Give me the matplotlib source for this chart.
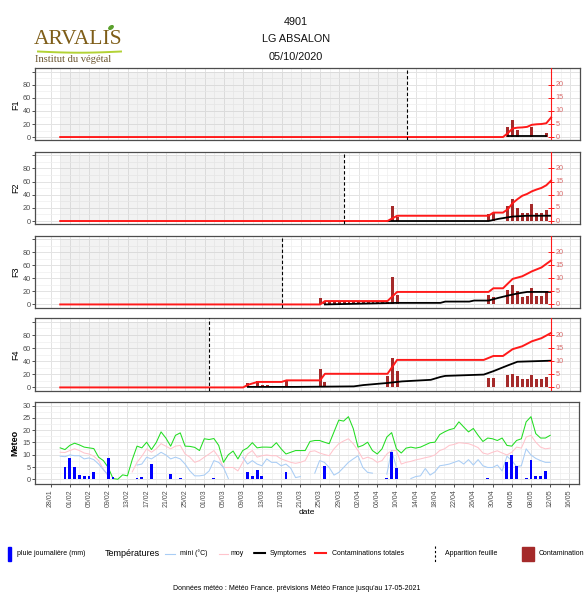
import numpy as np
import pandas as pd
import matplotlib
matplotlib.use("Agg")
import matplotlib.pyplot as plt
import matplotlib.dates as mdates
from matplotlib.patches import Rectangle, Ellipse

plt.rcParams['font.family'] = ['Liberation Sans', 'DejaVu Sans']

# -------------------------------
# data (values of the F panels are read on the red right axis)
# -------------------------------
year = "2021-"
start_date = "01-30"
axis_date = "05-12"
leaf = {"F1": "04-12", "F2": "03-30", "F3": "03-17", "F4": "03-02"}

f1_red_d = ["01-30", "05-02", "05-03", "05-04", "05-05", "05-06", "05-07", "05-08", "05-09", "05-10", "05-11", "05-12"]
f1_red_v = [0, 0, 1.5, 3.3, 3.6, 3.7, 3.9, 4.7, 4.9, 5.0, 5.3, 7.5]
f1_sym_d = ["05-03", "05-11"]
f1_sym_v = [0.3, 0.3]
f1_bar_d = ["05-03", "05-04", "05-05", "05-08", "05-11"]
f1_bar_v = [3.8, 6.4, 2.7, 4.0, 1.4]

f2_red_d = ["01-30", "04-08", "04-10", "04-29", "04-30", "05-02", "05-03", "05-04", "05-05", "05-06",
            "05-07", "05-08", "05-09", "05-10", "05-11", "05-12"]
f2_red_v = [0, 0, 2.0, 2.0, 3.2, 3.2, 4.5, 6.8, 8.3, 9.6, 10.3, 11.3, 12.0, 12.6, 13.6, 15.4]
f2_sym_d = ["04-08", "04-29", "05-01", "05-04", "05-07", "05-12"]
f2_sym_v = [0, 0, 0.8, 1.7, 2.0, 2.0]
f2_bar_d = ["04-09", "04-10", "04-29", "04-30", "05-03", "05-04", "05-05", "05-06", "05-07", "05-08",
            "05-09", "05-10", "05-11"]
f2_bar_v = [5.8, 1.5, 2.6, 2.9, 5.8, 8.3, 5.1, 2.9, 2.9, 6.5, 3.2, 2.9, 4.2]

f3_red_d = ["01-30", "03-25", "03-26", "04-08", "04-10", "04-29", "04-30", "05-02", "05-04", "05-06",
            "05-08", "05-10", "05-12"]
f3_red_v = [0, 0, 1.3, 1.3, 4.8, 4.8, 6.2, 6.2, 9.8, 10.8, 12.7, 14.2, 16.9]
f3_sym_d = ["03-26", "04-10", "04-19", "04-20", "04-25", "04-26", "04-29", "05-01", "05-03", "05-05",
            "05-07", "05-12"]
f3_sym_v = [0, 0.6, 0.6, 1.1, 1.1, 1.5, 1.5, 2.5, 3.4, 4.2, 4.8, 4.8]
f3_bar_d = ["03-25", "03-26", "03-27", "03-28", "03-29", "03-30", "03-31", "04-01", "04-02", "04-03",
            "04-04", "04-05", "04-06", "04-07", "04-08", "04-09", "04-10", "04-29", "04-30",
            "05-03", "05-04", "05-05", "05-06", "05-07", "05-08", "05-09", "05-10", "05-11"]
f3_bar_v = [2.5, 1.0, 1.0, 1.0, 1.0, 1.0, 1.0, 1.0, 1.0, 1.0, 1.0, 1.0, 1.0, 1.0, 1.0, 10.4, 3.5, 3.8, 2.8,
            5.7, 7.3, 5.3, 2.8, 3.4, 6.4, 3.4, 3.4, 4.7]

f4_red_d = ["01-30", "03-09", "03-10", "03-12", "03-17", "03-18", "03-25", "03-26", "04-08", "04-10",
            "04-28", "04-30", "05-02", "05-04", "05-06", "05-08", "05-10", "05-12"]
f4_red_v = [0, 0, 1.0, 2.1, 2.1, 2.7, 2.7, 5.2, 5.2, 10.5, 10.5, 12.0, 12.0, 14.6, 15.7, 17.6, 18.8, 20.8]
f4_sym_d = ["03-10", "03-20", "04-01", "04-03", "04-08", "04-11", "04-17", "04-19", "04-20", "04-28",
            "04-30", "05-03", "05-05", "05-12"]
f4_sym_v = [0.2, 0.2, 0.4, 0.9, 1.7, 2.3, 2.9, 4.0, 4.4, 4.9, 6.2, 8.4, 9.8, 10.2]
f4_bar_d = ["03-10", "03-12", "03-13", "03-14", "03-18", "03-25", "03-26", "04-08", "04-09", "04-10",
            "04-29", "04-30", "05-03", "05-04", "05-05", "05-06", "05-07", "05-08", "05-09", "05-10", "05-11"]
f4_bar_v = [1.7, 2.3, 0.8, 0.8, 3.0, 6.9, 1.9, 4.5, 11.4, 6.2, 3.6, 3.6, 4.8, 5.3, 4.4, 3.1, 3.1, 4.8,
            3.4, 3.4, 3.9]

nan = np.nan
# daily temperatures from 30/01 to 12/05 (values below 0 are out of the scale)
tmax = [12.8, 12.1, 13.8, 14.7, 14.0, 13.1, 12.8, 12.5, 9.0, 7.6, 4.8, 0.3, 0.0, 1.8, 1.4, 8.0, 13.5, 12.8,
        15.1, 12.1, 15.0, 19.3, 16.8, 13.5, 17.9, 18.9, 13.5, 13.4, 13.0, 11.7, 16.5, 16.2, 16.6, 13.8, 6.9,
        10.0, 11.5, 8.3, 11.7, 12.8, 14.9, 12.8, 13.1, 13.1, 13.0, 14.9, 12.4, 10.3, 11.0,
        11.7, 11.7, 11.7, 15.4, 15.8, 15.8, 15.1, 14.5, 19.3, 24.1, 23.7, 25.5, 20.7, 13.1, 13.8, 15.1,
        11.7, 10.3, 12.4, 17.2, 19.0, 12.4, 10.7, 12.7, 13.1, 12.7, 13.1, 14.0, 14.9, 15.1, 18.2, 19.3,
        20.2, 20.7, 23.4, 21.3, 19.3, 20.7, 17.9, 15.4, 16.8, 16.5, 15.8, 16.8, 13.8, 13.5, 15.8, 16.5,
        23.4, 25.5, 18.6, 16.8, 16.8, 17.9]
tmoy = [11.0, 10.9, 11.7, 12.4, 11.7, 10.7, 10.3, 9.4, 7.6, 4.1, 1.4, nan, nan, nan, nan, 3.0, 6.9, 9.4,
        12.4, 11.0, 12.4, 14.5, 13.5, 12.4, 13.5, 13.8, 10.3, 9.0, 6.9, 7.6, 9.0, 10.3, 11.7, 9.0, 4.8, 4.8,
        4.8, 3.4, 6.9, 10.3, 11.7, 9.0, 9.6, 9.9, 9.6, 9.6, 8.3, 7.6, 6.9,
        6.5, 6.9, 7.6, 11.3, 11.6, 10.7, 10.1, 9.6, 12.4, 14.5, 15.6, 16.5, 14.5, 11.7, 8.3, 9.0, 8.3,
        6.9, 7.6, 10.3, 11.7, 11.7, 6.2, 6.9, 7.3, 7.9, 8.3, 8.8, 9.2, 9.9, 11.7, 12.4, 13.8, 14.2, 14.9,
        14.7, 14.5, 13.8, 12.9, 10.7, 10.2, 11.0, 11.6, 10.7, 9.9, 11.0, 13.1, 12.7, 17.2, 17.9, 15.1,
        13.1, 12.4, 12.7]
tmin = [9.4, 9.2, 9.9, 9.6, 9.6, 8.3, 8.7, 8.0, 6.2, 3.9, 1.7, nan, nan, nan, nan, nan, 5.8, 6.2, 9.0, 8.3,
        9.6, 11.0, 9.9, 8.3, 9.0, 8.3, 6.2, 3.4, 1.4, 1.4, 1.7, 3.4, 7.6, 6.9, 4.8, 0.3, nan, nan, 9.0, 6.2,
        7.6, 6.2, 5.5, 8.3, 6.9, 6.9, 5.5, 6.2, 4.5,
        0.7, 1.1, nan, nan, 2.5, 7.6, 6.9, 4.8, 1.7, 2.8, 4.8, 6.9, 8.3, 9.6, 4.8, 2.8, 2.5, nan, nan, 2.1,
        11.7, 4.8, nan, nan, 0.3, 1.1, 1.4, 4.4, 1.7, 3.0, 5.5, 5.8, 6.2, 6.9, 7.6, 6.2, 8.0, 5.8, 8.0, 5.5,
        4.8, 4.8, 5.8, 3.4, 9.4, 7.6, 5.2, 5.5, 12.4, 9.9, 8.5, 7.6, 6.9, 6.9]
rain_d = ["01-31", "02-01", "02-02", "02-03", "02-04", "02-05", "02-06", "02-09", "02-10", "02-15", "02-16",
          "02-18", "02-22", "02-24", "03-03", "03-10", "03-11", "03-12", "03-13", "03-18", "03-26", "04-08",
          "04-09", "04-10", "04-29", "05-03", "05-04", "05-05", "05-07", "05-08", "05-09", "05-10", "05-11"]
rain_v = [5.2, 8.5, 4.8, 1.8, 1.4, 1.4, 3.0, 8.5, 1.0, 0.4, 1.1, 6.2, 2.1, 0.5, 0.5, 3.0, 1.4, 3.9, 1.4,
          3.0, 5.5, 0.4, 11.3, 4.4, 0.4, 6.9, 9.9, 5.5, 0.4, 7.8, 1.4, 1.4, 3.4]

titles = ["4901", "LG ABSALON", "05/10/2020"]
footer = "Données météo : Météo France. prévisions Météo France jusqu'au 17-05-2021"

SCALE = 4  # left axis (0-100) = 4 x red right axis (0-25)
RED = "#ff1a1a"
BROWN = "#a52a2a"


def dts(lst):
    return pd.to_datetime([year + s for s in lst])


day0 = mdates.date2num(pd.Timestamp(year + "01-28"))
xlim = (day0 - 3.24, day0 + 109.1)
major_ticks = pd.date_range(year + "01-28", year + "05-16", freq="4D")
minor_ticks = pd.date_range(year + "01-30", year + "05-18", freq="4D")

fig = plt.figure(figsize=(5.88, 5.96), dpi=100)


def px_axes(l, t, r, b):
    return fig.add_axes([l / 588, 1 - b / 596, (r - l) / 588, (b - t) / 596])


def base_style(ax):
    ax.set_xlim(xlim)
    ax.set_xticks(major_ticks)
    ax.set_xticks(minor_ticks, minor=True)
    ax.grid(which="major", color="#e3e3e3", lw=0.7)
    ax.grid(which="minor", color="#efefef", lw=0.5)
    ax.set_axisbelow(True)
    for s in ax.spines.values():
        s.set_color("#4d4d4d")
        s.set_linewidth(0.9)
    ax.tick_params(axis="y", labelsize=5.3, labelcolor="#4d4d4d", length=2, width=0.6,
                   color="#333333", pad=1)
    ax.tick_params(axis="y", which="minor", length=0)


# -------------------------------
# F panels
# -------------------------------
panels = [
    ("F1", (68.3, 140.3), f1_red_d, f1_red_v, f1_sym_d, f1_sym_v, f1_bar_d, f1_bar_v),
    ("F2", (151.7, 224.3), f2_red_d, f2_red_v, f2_sym_d, f2_sym_v, f2_bar_d, f2_bar_v),
    ("F3", (235.7, 307.7), f3_red_d, f3_red_v, f3_sym_d, f3_sym_v, f3_bar_d, f3_bar_v),
    ("F4", (318.3, 390.7), f4_red_d, f4_red_v, f4_sym_d, f4_sym_v, f4_bar_d, f4_bar_v),
]

for name, (top, bot), rd, rv, sd, sv, bd, bv in panels:
    ax = px_axes(35, top, 580, bot)
    base_style(ax)
    ax.set_ylim(-5, 105.5)
    ax.set_yticks([0, 20, 40, 60, 80, 100])
    ax.set_yticklabels(["0", "20", "40", "60", "80", ""])
    ax.set_yticks([10, 30, 50, 70, 90], minor=True)
    ax.tick_params(axis="x", which="both", length=0, labelbottom=False)
    ax.set_ylabel(name, fontsize=6.5, labelpad=2)

    # period before leaf appearance
    ax.fill_between(dts([start_date, leaf[name]]), 0, 100, color="#bfbfbf", alpha=0.2, lw=0, zorder=1)
    ax.bar(dts(bd), np.array(bv) * SCALE, width=0.6, color=BROWN, zorder=3)
    ax.plot(dts(sd), np.array(sv) * SCALE, color="black", lw=1.3, zorder=4)
    ax.plot(dts(rd), np.array(rv) * SCALE, color=RED, lw=1.4, zorder=5)
    ax.axvline(dts([leaf[name]])[0], color="black", lw=0.8, ls=(0, (3, 2)), zorder=6)

    # red secondary axis drawn at the current date
    xa = dts([axis_date])[0]
    ax.axvline(xa, color=RED, lw=0.8, zorder=6)
    for v in [0, 5, 10, 15, 20]:
        ax.plot([xa], [v * SCALE], marker="_", ms=4, mew=0.7, color=RED, zorder=6)
        ax.text(mdates.date2num(xa) + 0.9, v * SCALE, str(v), fontsize=5.2, color="#d96b6b",
                va="center", ha="left", zorder=6)

# -------------------------------
# Meteo panel
# -------------------------------
ax = px_axes(35, 401.7, 579, 483.7)
base_style(ax)
ax.set_ylim(-1.8, 31.6)
ax.set_yticks([0, 5, 10, 15, 20, 25, 30])
ax.set_yticks(np.arange(2.5, 30, 5), minor=True)
ax.set_ylabel("Meteo", fontsize=6.5, fontweight="bold", labelpad=2)

days = pd.date_range(year + start_date, periods=len(tmax))
ax.plot(days, tmax, color="#22dd22", lw=0.75, zorder=3)
ax.plot(days, tmoy, color="#ffc4cc", lw=0.75, zorder=3)
ax.plot(days, tmin, color="#a9cdf5", lw=0.75, zorder=3)
ax.bar(dts(rain_d), rain_v, width=0.6, color="#0000ff", zorder=4)

ax.set_xticklabels([d.strftime("%d/%m") for d in major_ticks], rotation=90, fontsize=5,
                   color="#4d4d4d")
ax.tick_params(axis="x", which="major", length=2, width=0.6, color="#333333", pad=2)
ax.tick_params(axis="x", which="minor", length=0)
ax.set_xlabel("date", fontsize=6, labelpad=1)

# -------------------------------
# header, legend, footer
# -------------------------------
ov = fig.add_axes([0, 0, 1, 1])
ov.set_xlim(0, 588)
ov.set_ylim(596, 0)
ov.axis("off")

for i, t in enumerate(titles):
    ov.text(296, 22 + i * 17.5, t, fontsize=7.8, ha="center", va="center", color="#111111")

ov.text(34, 39, "ARVALIS", fontsize=15.5, family="Liberation Serif", color="#7e5d18",
        ha="left", va="center")
xs = np.linspace(38, 121, 30)
ov.plot(xs, 51.5 + 1.2 * np.sin((xs - 38) / 83 * np.pi), color="#b3d235", lw=1.4)
ov.add_patch(Ellipse((111, 27.5), 5, 2.8, angle=-35, color="#5aa02c"))
ov.text(35, 60, "Institut du végétal", fontsize=7.6, family="Liberation Serif",
        color="#6b5530", ha="left", va="center")

ly = 553.5
ov.add_patch(Rectangle((8.3, 547), 3, 13.5, color="#0000ff"))
ov.text(17, ly, "pluie journalière (mm)", fontsize=5, va="center")
ov.text(105, ly, "Températures", fontsize=6.5, va="center")
ov.plot([165, 175], [ly, ly], color="#a9cdf5", lw=0.8)
ov.text(180, ly, "mini (°C)", fontsize=5, va="center")
ov.plot([219, 228], [ly, ly], color="#ffc4cc", lw=0.8)
ov.text(231, ly, "moy", fontsize=5, va="center")
ov.add_patch(Rectangle((244, 545), 8, 18, color="white", zorder=5))
ov.plot([254, 265], [ly - 0.5, ly - 0.5], color="black", lw=1.5)
ov.text(270, ly, "Symptomes", fontsize=5, va="center")
ov.plot([315, 326], [ly - 0.5, ly - 0.5], color=RED, lw=1.5)
ov.text(332, ly, "Contaminations totales", fontsize=5, va="center")
ov.plot([435, 435], [546, 562], color="black", lw=0.8, ls=(0, (2, 2)))
ov.text(445, ly, "Apparition feuille", fontsize=5, va="center")
ov.add_patch(Rectangle((522, 547), 12, 13.5, color=BROWN))
ov.text(539, ly, "Contamination", fontsize=5, va="center")

ov.text(297, 588, footer, fontsize=5, ha="center", va="center")

fig.savefig("out.png", dpi=100)
